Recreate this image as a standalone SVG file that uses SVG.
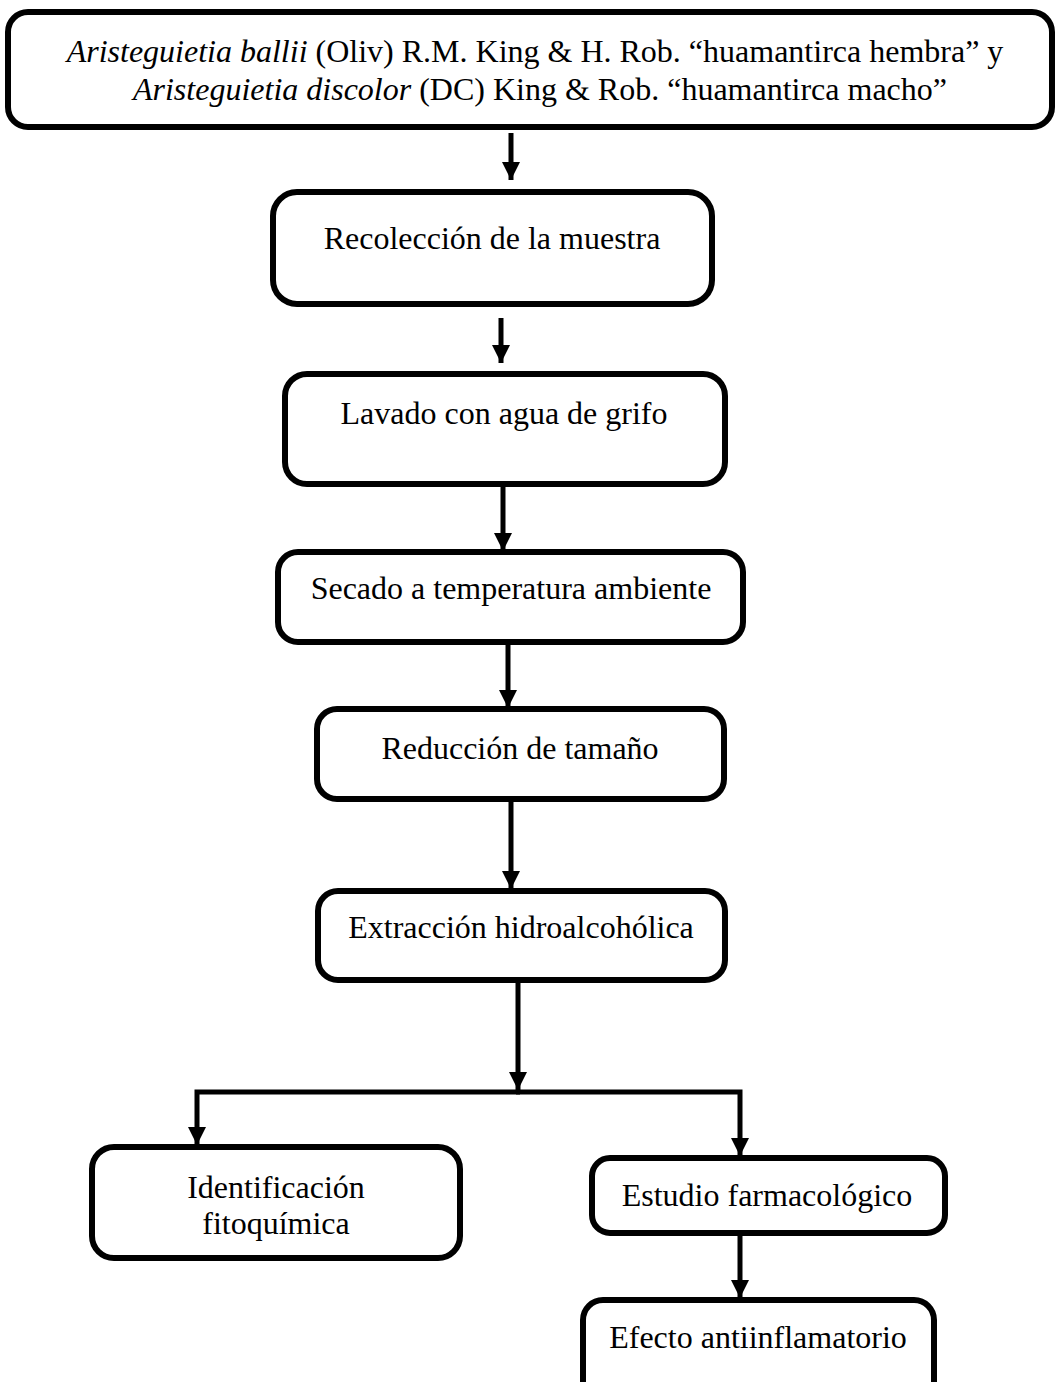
<svg xmlns="http://www.w3.org/2000/svg" width="1055" height="1382" viewBox="0 0 1055 1382">
<style>
.box{fill:#fff;stroke:#000;stroke-width:6}
.t{font-family:"Liberation Serif","Times New Roman",serif;font-size:32px;fill:#000;text-anchor:middle}
.c{fill:none;stroke:#000;stroke-width:5;stroke-linejoin:miter}
</style>
<defs>
<marker id="ah" markerUnits="userSpaceOnUse" markerWidth="18" markerHeight="18" refX="18" refY="9" orient="auto" viewBox="0 0 18 18">
<path d="M0,0 L18,9 L0,18 z" fill="#000"/>
</marker>
</defs>
<rect width="1055" height="1382" fill="#fff"/>
<g id="connectors">
<path class="c" d="M511,133 V180" marker-end="url(#ah)"/>
<path class="c" d="M501,318 V363" marker-end="url(#ah)"/>
<path class="c" d="M503,485 V551" marker-end="url(#ah)"/>
<path class="c" d="M508,642 V708" marker-end="url(#ah)"/>
<path class="c" d="M511,799 V889" marker-end="url(#ah)"/>
<path class="c" d="M518,980 V1090" marker-end="url(#ah)"/>
<path class="c" d="M520,1092 H197 V1145" marker-end="url(#ah)"/>
<path class="c" d="M516,1092 H740 V1156" marker-end="url(#ah)"/>
<path class="c" d="M740,1233 V1298" marker-end="url(#ah)"/>
</g>
<g id="n1">
<rect class="box" x="8" y="12" width="1044" height="115" rx="20"/>
<text class="t" x="535" y="62" font-size="31"><tspan font-style="italic">Aristeguietia ballii</tspan> (Oliv) R.M. King &amp; H. Rob. “huamantirca hembra” y</text>
<text class="t" x="540" y="100" font-size="31"><tspan font-style="italic">Aristeguietia discolor</tspan> (DC) King &amp; Rob. “huamantirca macho”</text>
</g>
<g id="n2">
<rect class="box" x="273" y="192" width="439" height="112" rx="24"/>
<text class="t" x="492" y="249">Recolección de la muestra</text>
</g>
<g id="n3">
<rect class="box" x="285" y="374" width="440" height="110" rx="22"/>
<text class="t" x="504" y="424">Lavado con agua de grifo</text>
</g>
<g id="n4">
<rect class="box" x="278" y="552" width="465" height="90" rx="20"/>
<text class="t" x="511" y="599">Secado a temperatura ambiente</text>
</g>
<g id="n5">
<rect class="box" x="317" y="709" width="407" height="90" rx="20"/>
<text class="t" x="520" y="759">Reducción de tamaño</text>
</g>
<g id="n6">
<rect class="box" x="318" y="891" width="407" height="89" rx="20"/>
<text class="t" x="521" y="938">Extracción hidroalcohólica</text>
</g>
<g id="n7">
<rect class="box" x="92" y="1147" width="368" height="111" rx="22"/>
<text class="t" x="276" y="1198">Identificación</text>
<text class="t" x="276" y="1234">fitoquímica</text>
</g>
<g id="n8">
<rect class="box" x="592" y="1158" width="353" height="75" rx="18"/>
<text class="t" x="767" y="1206">Estudio farmacológico</text>
</g>
<g id="n9">
<rect class="box" x="583" y="1300" width="351" height="110" rx="20"/>
<text class="t" x="758" y="1348">Efecto antiinflamatorio</text>
</g>
</svg>
